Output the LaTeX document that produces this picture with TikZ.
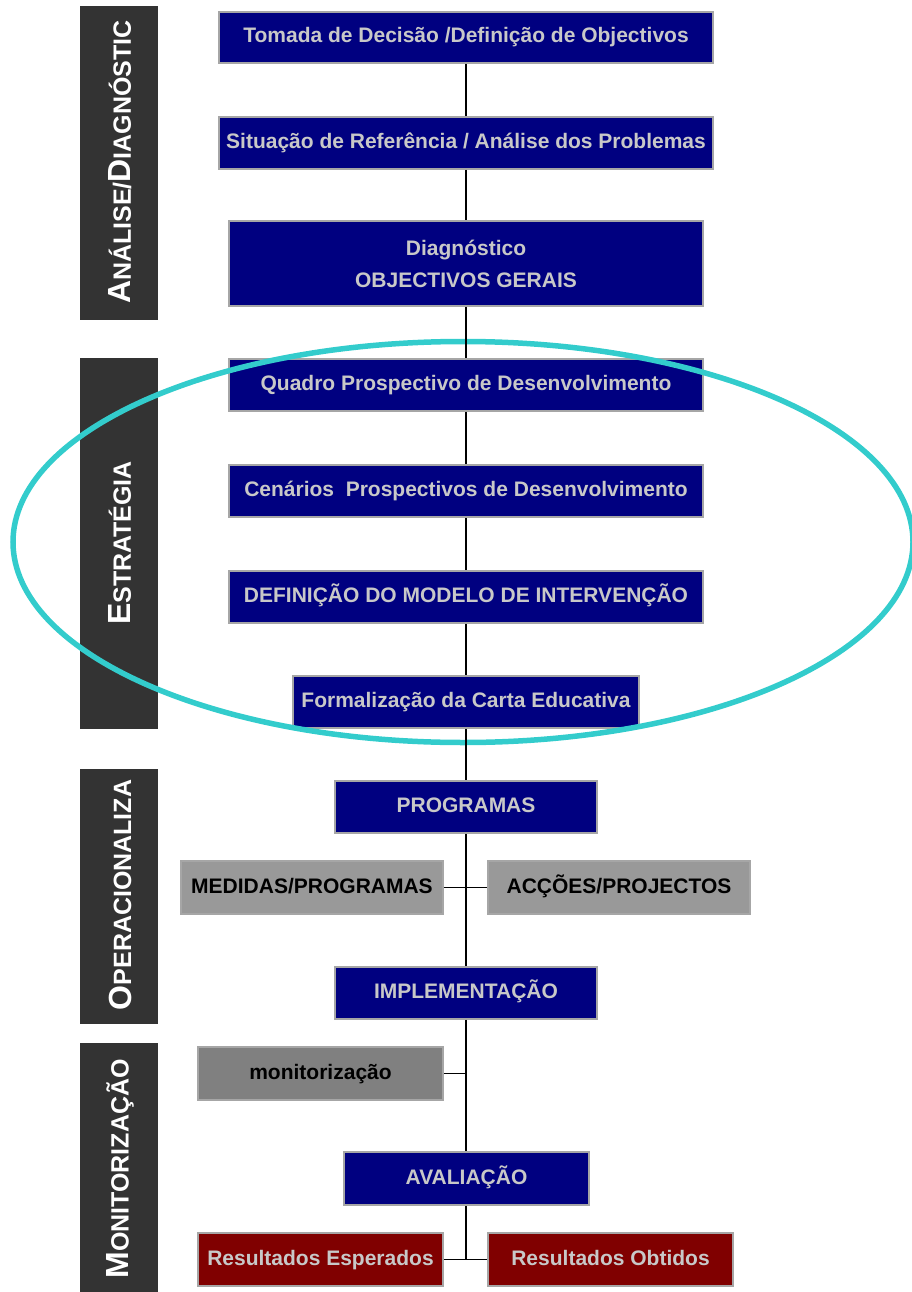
\documentclass[tikz,border=0pt]{standalone}
\usepackage{fontspec}
\setmainfont{Liberation Sans}
\definecolor{navybox}{HTML}{000080}
\definecolor{navytext}{HTML}{C8C8C8}
\definecolor{greybox}{HTML}{999999}
\definecolor{darkgreybox}{HTML}{808080}
\definecolor{redbox}{HTML}{800000}
\definecolor{boxborder}{HTML}{A6A6A6}
\definecolor{sidebar}{HTML}{333333}
\definecolor{teal}{HTML}{33CCCC}
\tikzset{
  box/.style={draw=boxborder, line width=1.8pt, inner sep=0pt, align=center,
    text height=15pt, text depth=4pt,
    font=\fontsize{21}{32}\selectfont\bfseries},
  navy/.style={box, fill=navybox, text=navytext},
  grey/.style={box, fill=greybox, text=black},
  dgrey/.style={box, fill=darkgreybox, text=black},
  red/.style={box, fill=redbox, text=navytext},
  side/.style={fill=sidebar, draw=none},
  sidetext/.style={rotate=90, text=white, inner sep=0pt, font=\bfseries},
  conn/.style={draw=black, line width=1.8pt},
}
\newcommand{\BigL}[1]{{\fontsize{32}{32}\selectfont #1}}
\newcommand{\SmL}[1]{{\fontsize{25}{25}\selectfont #1}}
\begin{document}
\begin{tikzpicture}[x=1pt,y=-1pt]
\useasboundingbox (0,0) rectangle (912,1292);
% sidebars
\fill[side] (80,6) rectangle (158,320);
\fill[side] (80,358) rectangle (158,729);
\fill[side] (80,769) rectangle (158,1024);
\fill[side] (80,1043) rectangle (158,1292);
\node[sidetext] (s1) at (120,162) {\BigL{A}\SmL{NÁLISE/}\BigL{D}\SmL{IAGNÓSTIC}};
\node[sidetext] (s2) at (120,543) {\BigL{E}\SmL{STRATÉGIA}};
\node[sidetext] (s3) at (120,895) {\BigL{O}\SmL{PERACIONALIZA}};
\node[sidetext] (s4) at (120,1169) {\BigL{M}\SmL{ONITORIZAÇÃO}};
% boxes
\node[navy, minimum width=494pt, minimum height=51pt] (t1) at (466,37.5) {Tomada de Decisão /Definição de Objectivos};
\node[navy, minimum width=494pt, minimum height=52pt] (t2) at (466,143) {Situação de Referência / Análise dos Problemas};
\node[navy, minimum width=474pt, minimum height=85pt, text height={}, text depth={}] (diag) at (466,263.5) {Diagnóstico\\OBJECTIVOS GERAIS};
\node[navy, minimum width=474pt, minimum height=52pt] (quadro) at (466,385) {Quadro Prospectivo de Desenvolvimento};
\node[navy, minimum width=474pt, minimum height=52pt] (cen) at (466,491) {Cenários\ \ Prospectivos de Desenvolvimento};
\node[navy, minimum width=474pt, minimum height=52pt] (def) at (466,597) {DEFINIÇÃO DO MODELO DE INTERVENÇÃO};
\node[navy, minimum width=346pt, minimum height=52pt] (form) at (466,702) {Formalização da Carta Educativa};
\node[navy, minimum width=262pt, minimum height=52pt] (prog) at (466,807) {PROGRAMAS};
\node[grey, minimum width=262pt, minimum height=53pt] (med) at (312,887.5) {MEDIDAS/PROGRAMAS};
\node[grey, minimum width=262pt, minimum height=53pt] (acc) at (619,887.5) {ACÇÕES/PROJECTOS};
\node[navy, minimum width=262pt, minimum height=52pt] (impl) at (466,993) {IMPLEMENTAÇÃO};
\node[dgrey, minimum width=245pt, minimum height=53pt] (mon) at (320.5,1073.5) {monitorização};
\node[navy, minimum width=245pt, minimum height=53pt] (aval) at (466.5,1178.5) {AVALIAÇÃO};
\node[red, minimum width=245pt, minimum height=53pt] (resE) at (320.5,1259.5) {Resultados Esperados};
\node[red, minimum width=245pt, minimum height=53pt] (resO) at (610.5,1259.5) {Resultados Obtidos};
% ellipse
\draw[teal, line width=5.5pt] (463,542) ellipse [x radius=450, y radius=200.5];
% connectors
\coordinate (jm) at (466,1073.5);
\coordinate (jr) at (466,1259.5);
\draw[conn] (t1.south) -- (t2.north);
\draw[conn] (t2.south) -- (diag.north);
\draw[conn] (diag.south) -- (quadro.north);
\draw[conn] (quadro.south) -- (cen.north);
\draw[conn] (cen.south) -- (def.north);
\draw[conn] (def.south) -- (form.north);
\draw[conn] (form.south) -- (prog.north);
\draw[conn] (prog.south) -- (impl.north);
\draw[conn] (med.east) -- (acc.west);
\draw[conn] (impl.south) -- (aval.north -| impl.south);
\draw[conn] (mon.east) -- (jm);
\draw[conn] (aval.south -| jr) -- (jr);
\draw[conn] (resE.east) -- (resO.west);
\end{tikzpicture}
\end{document}
